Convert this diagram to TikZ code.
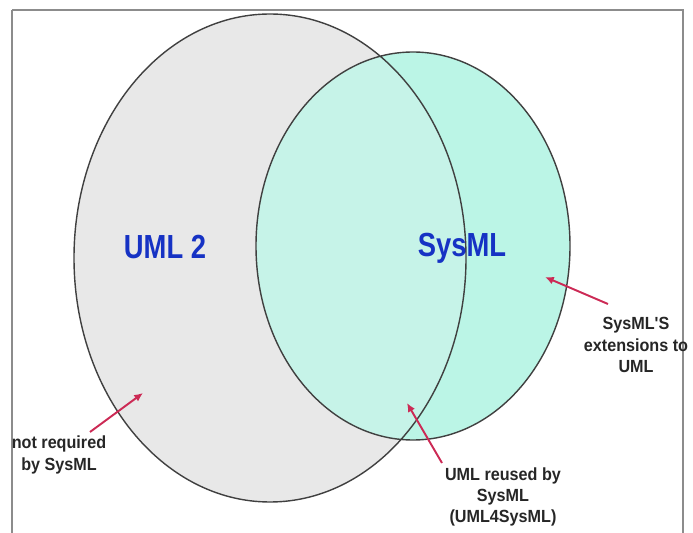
\documentclass[tikz,border=0pt]{standalone}
\usepackage{fontspec}
\setmainfont{Liberation Sans}
\usetikzlibrary{arrows.meta}
\definecolor{umlgray}{HTML}{E8E8E8}
\definecolor{sysmint}{HTML}{BBF5E6}
\definecolor{overlapmint}{HTML}{C6F3E8}
\definecolor{titleblue}{HTML}{1632C4}
\definecolor{pointred}{HTML}{CC2A55}
\definecolor{framegray}{HTML}{8C8C8C}

\begin{document}
\begin{tikzpicture}[x=0.02cm, y=-0.02cm,
		title/.style={font=\fontsize{19}{22}\selectfont\bfseries, text=titleblue, xscale=0.82, inner sep=0pt},
		note/.style={font=\fontsize{10}{12.2}\selectfont\bfseries, text=black!85, align=center, xscale=0.92, inner sep=0pt},
		pointer/.style={pointred, line width=1.1pt, -{Latex[length=5pt,width=4.5pt]}}]
		\useasboundingbox (0,0) rectangle (693,533);
		\draw[framegray, line width=0.8pt] (12,533) -- (12,10);
		\draw[framegray, line width=1.6pt] (12,10) -- (683,10) -- (683,533);
		% the two sets
		\fill[umlgray] (270,258) ellipse (196 and 244);
		\fill[sysmint] (413,246) ellipse (157 and 194);
		\begin{scope}
			\clip (270,258) ellipse (196 and 244);
			\fill[overlapmint] (413,246) ellipse (157 and 194);
		\end{scope}
		\draw[black!75, line width=0.8pt] (270,258) ellipse (196 and 244)
			(413,246) ellipse (157 and 194);
		\node[title] (umlname) at (165,247) {UML 2};
		\node[title] (sysname) at (462,248) {SysML};
		% notes and pointers
		\node[note] (notreq) at (59,455) {not required\\by SysML};
		\node[note] (ext) at (636,345) {SysML\textquotesingle S\\extensions to\\UML};
		\node[note] (reused) at (503,497) {UML reused by\\SysML\\(UML4SysML)};
		\coordinate (notreq tail) at (90,432);
		\coordinate (notreq tip) at (143,393);
		\coordinate (ext tail) at (608,304);
		\coordinate (ext tip) at (545,277);
		\coordinate (reused tail) at (442,463);
		\coordinate (reused tip) at (407,403);
		\draw[pointer] (notreq tail) -- (notreq tip);
		\draw[pointer] (ext tail) -- (ext tip);
		\draw[pointer] (reused tail) -- (reused tip);
	\end{tikzpicture}
\end{document}
